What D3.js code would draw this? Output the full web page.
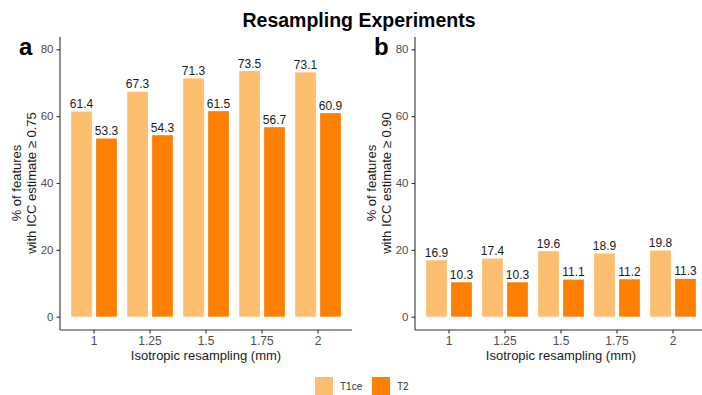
<!DOCTYPE html>
<html>
<head>
<meta charset="UTF-8">
<title>Resampling Experiments</title>
<style>
    body { margin: 0; background: #fff; }
    svg { display: block; font-family: "Liberation Sans", Arial, sans-serif; }
    .axis path, .axis line { stroke: #333; stroke-width: 1.1; }
    .axis text { fill: #4d4d4d; }
</style>
</head>
<body>
<script src="https://cdn.jsdelivr.net/npm/d3@7"></script>
<script>
    // data
    var categories = ["1", "1.25", "1.5", "1.75", "2"];
    var series = ["T1ce", "T2"];
    var t1ceA = [61.4, 67.3, 71.3, 73.5, 73.1];
    var t2A = [53.3, 54.3, 61.5, 56.7, 60.9];
    var t1ceB = [16.9, 17.4, 19.6, 18.9, 19.8];
    var t2B = [10.3, 10.3, 11.1, 11.2, 11.3];
    var yTicks = [0, 20, 40, 60, 80];

    var colors = {T1ce: "#fdbf6f", T2: "#ff7f00"};

    var svg = d3.select("body").append("svg")
        .attr("width", 702)
        .attr("height", 395);

    // title
    svg.append("text")
        .attr("x", 359)
        .attr("y", 27)
        .attr("text-anchor", "middle")
        .style("font-size", "19.5px")
        .style("font-weight", "bold")
        .style("fill", "#000")
        .text("Resampling Experiments");

    function panel(left, letter, v1, v2, threshold) {
        var x0 = d3.scaleBand()
            .domain(categories)
            .range([left, left + 292])
            .paddingInner(0.184)
            .paddingOuter(0.199);

        var x1 = d3.scaleBand()
            .domain(series)
            .range([0, x0.bandwidth()])
            .paddingInner(0.17);

        var y = d3.scaleLinear()
            .domain([-3.98, 83.68])
            .range([330, 37]);

        var rows = categories.map(function (c, i) {
            return {cat: c, vals: [{s: "T1ce", v: v1[i]}, {s: "T2", v: v2[i]}]};
        });

        var g = svg.append("g");

        var groups = g.selectAll(".grp")
            .data(rows)
            .enter().append("g")
            .attr("class", "grp")
            .attr("transform", function (d) { return "translate(" + x0(d.cat) + ",0)"; });

        groups.selectAll("rect")
            .data(function (d) { return d.vals; })
            .enter().append("rect")
            .attr("x", function (d) { return x1(d.s); })
            .attr("y", function (d) { return y(d.v); })
            .attr("width", x1.bandwidth())
            .attr("height", function (d) { return y(0) - y(d.v); })
            .attr("fill", function (d) { return colors[d.s]; });

        groups.selectAll(".lbl")
            .data(function (d) { return d.vals; })
            .enter().append("text")
            .attr("class", "lbl")
            .attr("x", function (d) { return x1(d.s) + x1.bandwidth() / 2; })
            .attr("y", function (d) { return y(d.v) - 3.5; })
            .attr("text-anchor", "middle")
            .style("font-size", "12px")
            .style("fill", "#1a1a1a")
            .text(function (d) { return d.v.toFixed(1); });

        // axes
        var xa = g.append("g")
            .attr("class", "axis")
            .attr("transform", "translate(0,330)")
            .call(d3.axisBottom(x0).tickSize(3.5).tickPadding(2.5));
        xa.select(".domain").attr("d", "M" + left + ",0H" + (left + 292));
        xa.selectAll("text").style("font-size", "12px");

        var ya = g.append("g")
            .attr("class", "axis")
            .attr("transform", "translate(" + left + ",0)")
            .call(d3.axisLeft(y).tickValues(yTicks).tickSize(3.5).tickPadding(3));
        ya.select(".domain").attr("d", "M0,37V330");
        ya.selectAll("text").style("font-size", "11.5px");

        // axis titles
        g.append("text")
            .attr("x", left + 146)
            .attr("y", 360)
            .attr("text-anchor", "middle")
            .style("font-size", "13px")
            .style("fill", "#1a1a1a")
            .text("Isotropic resampling (mm)");

        var yt = g.append("text")
            .attr("transform", "translate(" + (left - 39) + ",183) rotate(-90)")
            .attr("text-anchor", "middle")
            .style("font-size", "13px")
            .style("fill", "#1a1a1a");
        yt.append("tspan").attr("x", 0).attr("y", 0).text("% of features");
        yt.append("tspan").attr("x", 0).attr("y", 14.5).text("with ICC estimate \u2265 " + threshold);

        // panel letter
        g.append("text")
            .attr("x", left - 41)
            .attr("y", 55)
            .style("font-size", "24px")
            .style("font-weight", "bold")
            .style("fill", "#000")
            .text(letter);
    }

    panel(60, "a", t1ceA, t2A, "0.75");
    panel(415, "b", t1ceB, t2B, "0.90");

    // legend
    var legend = svg.append("g");
    var lx = d3.scaleOrdinal().domain(series).range([315, 372]);
    legend.selectAll("rect")
        .data(series)
        .enter().append("rect")
        .attr("x", function (d) { return lx(d); })
        .attr("y", 377)
        .attr("width", 18)
        .attr("height", 18)
        .attr("fill", function (d) { return colors[d]; });
    legend.selectAll("text")
        .data(series)
        .enter().append("text")
        .attr("x", function (d) { return lx(d) + 25; })
        .attr("y", 390)
        .style("font-size", "10px")
        .style("fill", "#333")
        .text(function (d) { return d; });
</script>
</body>
</html>
